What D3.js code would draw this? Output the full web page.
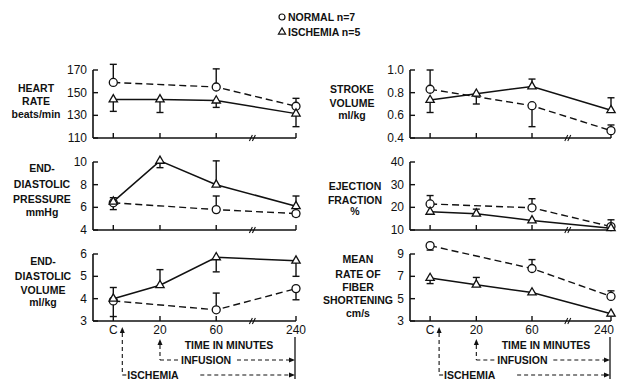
<!DOCTYPE html>
<html>
<head>
<meta charset="utf-8">
<script src="https://cdn.jsdelivr.net/npm/d3@7"></script>
<style>
  body { margin: 0; background: #fff; }
  text { font-family: "Liberation Sans", Arial, sans-serif; fill: #111; }
  .lab { font-size: 10.5px; font-weight: bold; }
  .tick { font-size: 12px; }
</style>
</head>
<body>
<svg id="chart" width="617" height="380"></svg>
<script>
// time points (C = control)
var times = ['C', '20', '60', '240']

// heart rate, beats/min
var hrNormal = [159, null, 155, 138]
var hrNormalErr = [175, null, 171, 145]
var hrIsch = [144, 144, 143, 131.5]
var hrIschErr = [133.5, 132.5, 137, 120]

// end-diastolic pressure, mmHg
var edpNormal = [6.4, null, 5.8, 5.45]
var edpNormalErr = [5.8, null, 7.0, 5.2]
var edpIsch = [6.5, 10.1, 8.0, 6.1]
var edpIschErr = [6.85, 9.5, 10.1, 7.0]

// end-diastolic volume, ml/kg
var edvNormal = [3.9, null, 3.5, 4.45]
var edvNormalErr = [3.2, null, 4.25, 3.95]
var edvIsch = [4.0, 4.6, 5.85, 5.7]
var edvIschErr = [4.5, 5.3, 5.2, 5.0]

// stroke volume, ml/kg
var svNormal = [0.83, null, 0.685, 0.465]
var svNormalErr = [1.0, null, 0.5, 0.515]
var svIsch = [0.735, 0.79, 0.855, 0.645]
var svIschErr = [0.625, 0.70, 0.92, 0.755]

// ejection fraction, %
var efNormal = [21.5, null, 19.8, 11.5]
var efNormalErr = [25.2, null, 23.8, 14.5]
var efIsch = [18, 17.2, 14.2, 10.8]
var efIschErr = [17, 19.2, 13.5, 10]

// mean rate of fiber shortening, cm/s
var vcfNormal = [9.75, null, 7.7, 5.2]
var vcfNormalErr = [9.35, null, 8.5, 5.7]
var vcfIsch = [6.85, 6.25, 5.55, 3.65]
var vcfIschErr = [6.35, 6.9, 5.4, 3.45]

var hrTicks = [110, 130, 150, 170]
var edpTicks = [4, 6, 8, 10]
var edvTicks = [3, 4, 5, 6]
var svTicks = [0.4, 0.6, 0.8, 1.0]
var efTicks = [10, 20, 30, 40]
var vcfTicks = [3, 5, 7, 9]

var svg = d3.select('#chart')

// uneven time axis, fraction of the axis width
var tFrac = [0.10, 0.33, 0.607, 1.0]
var breakFrac = 0.785

var cols = [{x0: 93, x1: 296}, {x0: 410, x1: 611}]
var rows = [{y0: 138, y1: 70}, {y0: 230, y1: 162}, {y0: 321, y1: 254}]

var panels = [
  {col: 0, row: 0, ticks: hrTicks, fmt: d3.format('d'), n: hrNormal, ne: hrNormalErr, s: hrIsch, se: hrIschErr,
    label: ['HEART', 'RATE', 'beats/min'], lx: 36, ly: [88, 101, 114]},
  {col: 0, row: 1, ticks: edpTicks, fmt: d3.format('d'), n: edpNormal, ne: edpNormalErr, s: edpIsch, se: edpIschErr,
    label: ['END-', 'DIASTOLIC', 'PRESSURE', 'mmHg'], lx: 42, ly: [168, 184, 199, 212]},
  {col: 0, row: 2, ticks: edvTicks, fmt: d3.format('d'), n: edvNormal, ne: edvNormalErr, s: edvIsch, se: edvIschErr,
    label: ['END-', 'DIASTOLIC', 'VOLUME', 'ml/kg'], lx: 43, ly: [261, 276, 290, 302]},
  {col: 1, row: 0, ticks: svTicks, fmt: d3.format('.1f'), n: svNormal, ne: svNormalErr, s: svIsch, se: svIschErr,
    label: ['STROKE', 'VOLUME', 'ml/kg'], lx: 352, ly: [89, 103, 115]},
  {col: 1, row: 1, ticks: efTicks, fmt: d3.format('d'), n: efNormal, ne: efNormalErr, s: efIsch, se: efIschErr,
    label: ['EJECTION', 'FRACTION', '%'], lx: 355, ly: [186, 200, 211]},
  {col: 1, row: 2, ticks: vcfTicks, fmt: d3.format('d'), n: vcfNormal, ne: vcfNormalErr, s: vcfIsch, se: vcfIschErr,
    label: ['MEAN', 'RATE OF', 'FIBER', 'SHORTENING', 'cm/s'], lx: 358, ly: [259, 274, 287, 300, 313]}
]

panels.forEach(function(p) {
  var c = cols[p.col], r = rows[p.row]
  var w = c.x1 - c.x0
  var x = d3.scaleOrdinal().domain(times).range(tFrac.map(function(f) { return c.x0 + f * w }))
  var y = d3.scaleLinear().domain(d3.extent(p.ticks)).range([r.y0, r.y1])
  var g = svg.append('g')

  // axes
  g.append('line').attr('x1', c.x0).attr('x2', c.x0).attr('y1', r.y1).attr('y2', r.y0)
    .attr('stroke', '#111').attr('stroke-width', 1.6)
  g.append('line').attr('x1', c.x0).attr('x2', c.x1).attr('y1', r.y0).attr('y2', r.y0)
    .attr('stroke', '#111').attr('stroke-width', 1.6)
  g.selectAll('.yt').data(p.ticks).enter().append('line')
    .attr('x1', c.x0).attr('x2', c.x0 + 5)
    .attr('y1', function(d) { return y(d) }).attr('y2', function(d) { return y(d) })
    .attr('stroke', '#111').attr('stroke-width', 1.4)
  g.selectAll('.ytl').data(p.ticks).enter().append('text')
    .attr('class', 'tick')
    .attr('x', c.x0 - 6).attr('y', function(d) { return y(d) + 4 })
    .attr('text-anchor', 'end')
    .text(function(d) { return p.fmt(d) })
  g.selectAll('.xt').data(times).enter().append('line')
    .attr('x1', function(d) { return x(d) }).attr('x2', function(d) { return x(d) })
    .attr('y1', r.y0).attr('y2', r.y0 - 5)
    .attr('stroke', '#111').attr('stroke-width', 1.4)
  var bx = c.x0 + breakFrac * w
  ;[-1.5, 1.5].forEach(function(o) {
    g.append('line').attr('x1', bx + o - 1.5).attr('x2', bx + o + 1.5)
      .attr('y1', r.y0 + 3).attr('y2', r.y0 - 3)
      .attr('stroke', '#111').attr('stroke-width', 1.1)
  })

  // panel label
  g.selectAll('.pl').data(p.label).enter().append('text')
    .attr('class', 'lab')
    .attr('x', p.lx).attr('y', function(d, i) { return p.ly[i] + 4 })
    .attr('text-anchor', 'middle')
    .text(function(d) { return d })

  // normal series skips the 20 min point, so connect across the gap
  var nPts = p.n.map(function(d, i) { return [x(times[i]), d == null ? null : y(d)] })
    .filter(function(d) { return d[1] != null })
  g.append('path').datum(nPts).attr('d', d3.line())
    .attr('fill', 'none').attr('stroke', '#111').attr('stroke-width', 1.4).attr('stroke-dasharray', '7,4')
  var line = d3.line()
    .x(function(d, i) { return x(times[i]) })
    .y(function(d) { return y(d) })
  g.append('path').datum(p.s).attr('d', line)
    .attr('fill', 'none').attr('stroke', '#111').attr('stroke-width', 1.5)

  // error bars
  function errBars(vals, errs) {
    vals.forEach(function(v, i) {
      if (v == null || errs[i] == null) return
      var xx = x(times[i])
      g.append('line').attr('x1', xx).attr('x2', xx).attr('y1', y(v)).attr('y2', y(errs[i]))
        .attr('stroke', '#111').attr('stroke-width', 1.4)
      g.append('line').attr('x1', xx - 3.5).attr('x2', xx + 3.5).attr('y1', y(errs[i])).attr('y2', y(errs[i]))
        .attr('stroke', '#111').attr('stroke-width', 1.4)
    })
  }
  errBars(p.n, p.ne)
  errBars(p.s, p.se)

  // markers
  g.selectAll('.mn').data(p.n.map(function(d, i) { return [times[i], d] }).filter(function(d) { return d[1] != null }))
    .enter().append('circle')
    .attr('cx', function(d) { return x(d[0]) }).attr('cy', function(d) { return y(d[1]) })
    .attr('r', 4).attr('fill', '#fff').attr('stroke', '#111').attr('stroke-width', 1.3)
  g.selectAll('.ms').data(p.s.map(function(d, i) { return [times[i], d] }))
    .enter().append('path')
    .attr('d', d3.symbol().type(d3.symbolTriangle).size(30))
    .attr('transform', function(d) { return 'translate(' + x(d[0]) + ',' + y(d[1]) + ')' })
    .attr('fill', '#fff').attr('stroke', '#111').attr('stroke-width', 1.3)

  // time annotations under the bottom panels
  if (p.row === 2) {
    var bottom = r.y0
    g.selectAll('.xtl').data(times).enter().append('text')
      .attr('class', 'tick')
      .attr('x', function(d) { return Math.min(x(d), 604) }).attr('y', bottom + 13)
      .attr('text-anchor', 'middle')
      .text(function(d) { return d })
    g.append('text').attr('class', 'lab')
      .attr('x', c.x0 + 136).attr('y', bottom + 28)
      .attr('text-anchor', 'middle')
      .text('TIME IN MINUTES')

    var xEnd = x('240')
    var xIsc = x('C') + 9, xInf = x('20')
    var yInf = bottom + 39, yIsc = bottom + 54
    g.append('line').attr('x1', xEnd - 1).attr('x2', xEnd - 1).attr('y1', bottom + 16).attr('y2', bottom + 58)
      .attr('stroke', '#111').attr('stroke-width', 1.3)

    var dashed = function(x1, y1, x2, y2) {
      g.append('line').attr('x1', x1).attr('y1', y1).attr('x2', x2).attr('y2', y2)
        .attr('stroke', '#111').attr('stroke-width', 1.1).attr('stroke-dasharray', '4,3')
    }
    var upArrow = function(xx, yy) {
      g.append('path').attr('d', 'M' + xx + ',' + yy + 'l-2.5,6h5z').attr('fill', '#111')
    }
    var rightArrow = function(xx, yy) {
      g.append('path').attr('d', 'M' + xx + ',' + yy + 'l-6,-2.5v5z').attr('fill', '#111')
    }
    // ischemia
    upArrow(xIsc, bottom + 6)
    dashed(xIsc, bottom + 12, xIsc, yIsc)
    dashed(xIsc, yIsc, xIsc + 5, yIsc)
    g.append('text').attr('class', 'lab').attr('x', xIsc + 5).attr('y', yIsc + 4).text('ISCHEMIA')
    dashed(xIsc + 78, yIsc, xEnd - 6, yIsc)
    rightArrow(xEnd - 1, yIsc)
    // infusion
    upArrow(xInf, bottom + 18)
    dashed(xInf, bottom + 24, xInf, yInf)
    dashed(xInf, yInf, xInf + 20, yInf)
    g.append('text').attr('class', 'lab').attr('x', xInf + 21).attr('y', yInf + 4).text('INFUSION')
    dashed(xInf + 77, yInf, xEnd - 6, yInf)
    rightArrow(xEnd - 1, yInf)
  }
})

// legend
var legend = svg.append('g').attr('transform', 'translate(282,0)')
legend.append('circle').attr('cx', 0).attr('cy', 17).attr('r', 3)
  .attr('fill', '#fff').attr('stroke', '#111').attr('stroke-width', 1.2)
legend.append('path').attr('d', d3.symbol().type(d3.symbolTriangle).size(22))
  .attr('transform', 'translate(0,32)')
  .attr('fill', '#fff').attr('stroke', '#111').attr('stroke-width', 1.2)
legend.append('text').attr('class', 'lab').attr('x', 6).attr('y', 21).text('NORMAL  n=7')
legend.append('text').attr('class', 'lab').attr('x', 6).attr('y', 36).text('ISCHEMIA  n=5')
</script>
</body>
</html>
